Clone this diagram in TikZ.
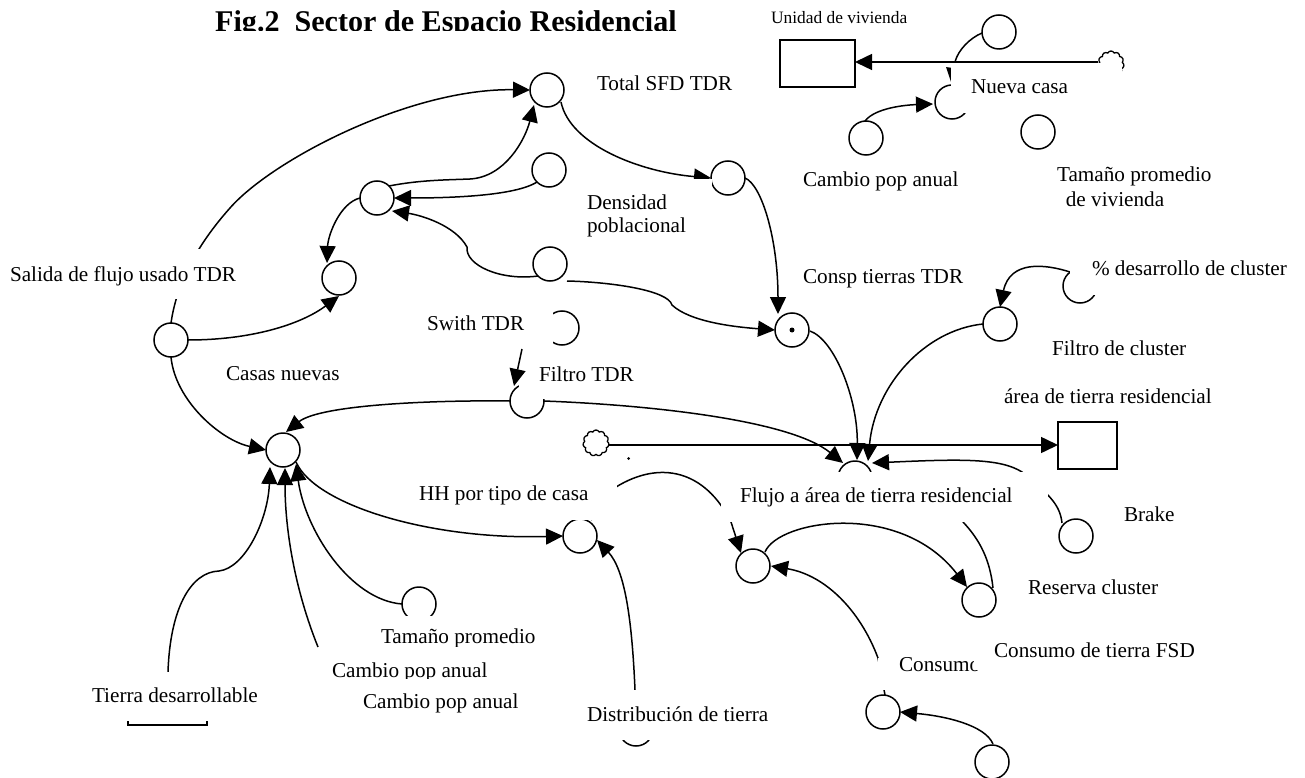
\documentclass[tikz,border=0pt]{standalone}
\usepackage{fontspec}
\setmainfont{Liberation Serif}
\usetikzlibrary{arrows.meta,shapes.symbols}
\tikzset{
  aux/.style={circle,draw=black,line width=1.5pt,fill=white,minimum size=34pt,inner sep=0pt,outer sep=0pt},
  stockbox/.style={rectangle,draw=black,line width=1.5pt,fill=white,inner sep=0pt,outer sep=0pt},
  sourcecloud/.style={cloud,cloud puffs=11,cloud puff arc=130,aspect=1,draw=black,line width=1.3pt,fill=white,minimum width=26pt,minimum height=26pt,inner sep=0pt},
  link/.style={line width=1.5pt,-{Triangle[length=17pt,width=16pt]},black},
  linkplain/.style={line width=1.5pt,black},
  flowline/.style={line width=1.5pt,-{Triangle[length=17pt,width=16pt]},black},
  label/.style={font=\fontsize{21.2}{25}\selectfont,anchor=west,inner sep=0pt,outer sep=0pt},
  mask/.style={fill=white,draw=none}
}
\begin{document}
\begin{tikzpicture}[x=1pt,y=-1pt]
\useasboundingbox (0,0) rectangle (1305,778);
\fill[white] (0,0) rectangle (1305,778);

% auxiliaries
\node[aux] (c1) at (547,90) {};
\node[aux] (c2) at (549,170) {};
\node[aux] (c3) at (377,198) {};
\node[aux] (c4) at (339,278) {};
\node[aux] (c5) at (550,264) {};
\node[aux] (c6) at (728,178) {};
\node[aux] (c7) at (792,330) {};
\node[aux] (c8) at (171,340) {};
\node[aux] (c9) at (283,450) {};
\node[aux] (c10) at (527,401) {};
\node[aux] (swith) at (562,328) {};
\node[aux] (c11) at (1000,324) {};
\node[aux] (pct) at (1080,286) {};
\node[aux] (flow) at (855,478) {};
\node[aux] (hh) at (580,536) {};
\node[aux] (c12) at (753,566) {};
\node[aux] (c13) at (979,600) {};
\node[aux] (brake) at (1076,536) {};
\node[aux] (c14) at (883,712) {};
\node[aux] (c15) at (992,762) {};
\node[aux] (tam) at (419,604) {};
\node[aux] (dist) at (636,729) {};
\node[aux] (top) at (999,32) {};
\node[aux] (nueva) at (952,102) {};
\node[aux] (cpa) at (866,138) {};
\node[aux] (tpv) at (1038,132) {};
\fill (792,330) circle (2.5pt);

% stocks and clouds
\node[stockbox,minimum width=75pt,minimum height=47pt] (unidad) at (817.5,63.5) {};
\node[stockbox,minimum width=59pt,minimum height=47pt] (area) at (1087.5,445.5) {};
\node[stockbox,minimum width=79pt,minimum height=45pt] (tierra) at (167.5,702.5) {};
\node[sourcecloud] (cloud1) at (1111,64) {};
\node[sourcecloud] (cloud2) at (596,443) {};
\fill (628.5,458.5) circle (1.5pt);

% flows
\draw[flowline] (cloud1.west |- 0,62) -- (unidad.east |- 0,62);
\draw[flowline] (cloud2.east |- 0,445) -- (area.west |- 0,445);

% connectors
\draw[link] (c8.north) .. controls (175,295) and (188,255) .. (230,208) .. controls (272,160) and (410,88) .. (c1.west);
\draw[link] (c3.north east) .. controls (420,180) and (445,180) .. (470,179) .. controls (505,177) and (525,140) .. (534,105);
\draw[link] (c2.south west) .. controls (515,196) and (450,198) .. (c3.east);
\draw[link] (c5.south west) .. controls (500,281) and (465,265) .. (467,247) .. controls (455,225) and (420,215) .. (392,211);
\coordinate (c5out) at (567,281);
\draw[link] (c5out) .. controls (610,282) and (668,290) .. (672,305) .. controls (690,322) and (735,327) .. (c7.west);
\draw[link] (c3.west) .. controls (340,203) and (328,235) .. (327,263);
\draw[link] (c8.east) .. controls (250,340) and (300,325) .. (339,296);
\draw[link] (c8.south) .. controls (175,400) and (220,440) .. (c9.west);
\draw[link] (561,102) .. controls (570,145) and (640,172) .. (c6.west);
\draw[link] (745,178) .. controls (762,185) and (778,240) .. (778,314);
\draw[link] (810,331) .. controls (835,340) and (858,400) .. (857,460);
\draw[link] (c11.west) .. controls (925,330) and (875,385) .. (868,461);
\draw[link] (1070,272) .. controls (1045,264) and (1010,260) .. (1000,307);
\draw[link] (1062,523) .. controls (1060,505) and (1050,495) .. (1022,472) .. controls (1000,458) and (960,459) .. (872,463);
\draw[link] (544,401) .. controls (650,405) and (790,420) .. (843,463);
\draw[link] (510,401) .. controls (430,400) and (320,405) .. (286,432);
\draw[link] (168,672) .. controls (170,610) and (190,572) .. (219,571) .. controls (245,568) and (268,520) .. (270,467);
\draw[link] (318,647) .. controls (295,590) and (285,530) .. (285,468);
\draw[link] (tam.west) .. controls (350,600) and (305,530) .. (296,464);
\draw[link] (296,462) .. controls (315,505) and (430,540) .. (hh.west);
\draw[link] (635,690) .. controls (632,620) and (625,570) .. (597,540);
\draw[link] (591,520) .. controls (600,510) and (610,495) .. (616,487) .. controls (660,460) and (705,470) .. (731,522) -- (741,553);
\draw[link] (765,552) .. controls (778,520) and (900,500) .. (967,587);
\draw[linkplain] (993,588) .. controls (990,560) and (980,540) .. (963,522);
\draw[link] (878,658) .. controls (860,610) and (825,575) .. (771,566);
\draw[linkplain] (878,658) -- (885,695);
\draw[link] (993,744) .. controls (985,725) and (945,716) .. (c14.east);
\draw[link] (865,121) .. controls (875,108) and (905,105) .. (933,104);
\draw[link] (982,33) .. controls (970,38) and (958,50) .. (955,62) -- (952,85);

% masks left by the pasted labels
\fill[mask] (690,179.5) rectangle (712,187);

% labels with white boxes
\node[font=\fontsize{30.1}{34}\selectfont\bfseries,anchor=base west,inner sep=0pt] (title) at (215,31.5) {Fig.2\ \ Sector de Espacio Residencial};
\fill[mask] (195,31.5) rectangle (700,42);
\node[label,font=\fontsize{17.4}{20}\selectfont] (lunidad) at (771,18) {Unidad de vivienda};
\node[mask,anchor=north west,minimum width=171pt,minimum height=50.5pt,inner sep=0pt] (bnueva) at (951,62.5) {};
\node[label] (lnueva) at (971,87) {Nueva casa};
\node[label] (lcpa) at (803,181) {Cambio pop anual};
\node[label] (ltp1) at (1057,176) {Tamaño promedio};
\node[label,anchor=center] (ltp2) at (1115,199) {de vivienda};
\node[label] (ltotal) at (597,83) {Total SFD TDR};
\node[label] (ldens) at (587,202) {Densidad};
\node[label] (lpob) at (587,227) {poblacional};
\node[mask,anchor=north west,minimum width=232pt,minimum height=50pt,inner sep=0pt] (bsal) at (6,249) {};
\node[label] (lsal) at (10,276) {Salida de flujo usado TDR};
\node[label] (lcasas) at (226,374) {Casas nuevas};
\node[label] (lconsp) at (803,279) {Consp tierras TDR};
\node[mask,anchor=north west,minimum width=220pt,minimum height=45pt,inner sep=0pt] (bpct) at (1070,250) {};
\node[label] (lpct) at (1092,268) {\% desarrollo de cluster};
\node[label] (lfcl) at (1052,348) {Filtro de cluster};
\node[label] (larea) at (1004,396) {área de tierra residencial};
\node[mask,anchor=north west,minimum width=150pt,minimum height=44pt,inner sep=0pt] (bswith) at (403,305) {};
\node[label] (lswith) at (427,323) {Swith TDR};
\node[mask,anchor=north west,minimum width=122pt,minimum height=40pt,inner sep=0pt] (bfil) at (519,359) {};
\node[label] (lfil) at (539,374) {Filtro TDR};
\draw[link] (522,349) -- (514,386);
\node[mask,anchor=north west,minimum width=217pt,minimum height=60pt,inner sep=0pt] (bhh) at (400,460) {};
\node[label] (lhh) at (419,495) {HH por tipo de casa};
\node[mask,anchor=north west,minimum width=327pt,minimum height=50pt,inner sep=0pt] (bflujo) at (721,472) {};
\node[label] (lflujo) at (740,497) {Flujo a área de tierra residencial};
\node[label] (lbrake) at (1124,514) {Brake};
\node[label] (lres) at (1028,587) {Reserva cluster};
\node[mask,anchor=north west,minimum width=96pt,minimum height=32pt,inner sep=0pt] (bcons) at (878,658) {};
\node[label] (lcons) at (899,665) {Consumo};
\node[mask,anchor=north west,minimum width=230pt,minimum height=40pt,inner sep=0pt] (bcons2) at (974,630) {};
\node[label] (lcons2) at (994,650) {Consumo de tierra FSD};
\node[mask,anchor=north west,minimum width=190pt,minimum height=50pt,inner sep=0pt] (bdist) at (575,690) {};
\node[label] (ldist) at (587,714) {Distribución de tierra};
\node[mask,anchor=north west,minimum width=175pt,minimum height=49pt,inner sep=0pt] (btierra) at (88,672) {};
\node[label] (ltierra) at (92,695) {Tierra desarrollable};
\node[mask,anchor=north west,minimum width=160pt,minimum height=31pt,inner sep=0pt] (btam) at (378,616) {};
\node[label] (ltam) at (381,638) {Tamaño promedio};
\node[mask,anchor=north west,minimum width=225pt,minimum height=32pt,inner sep=0pt] (bcam1) at (318,647) {};
\node[label] (lcam1) at (332,672) {Cambio pop anual};
\node[mask,anchor=north west,minimum width=200pt,minimum height=36pt,inner sep=0pt] (bcam2) at (320,679) {};
\node[label] (lcam2) at (363,703) {Cambio pop anual};
\end{tikzpicture}
\end{document}
